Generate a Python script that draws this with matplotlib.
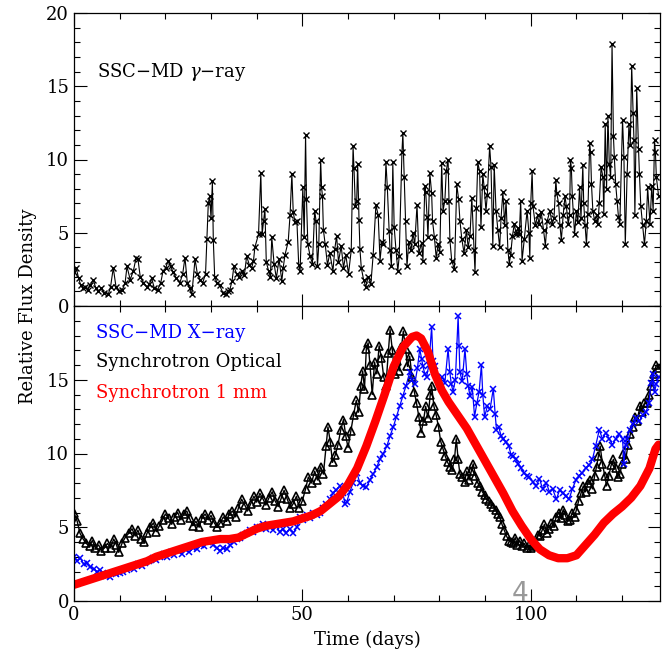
import numpy as np
import matplotlib
matplotlib.use("Agg")
import matplotlib.pyplot as plt
from matplotlib.ticker import MultipleLocator

plt.rcParams['font.family'] = 'DejaVu Serif'
plt.rcParams['mathtext.fontset'] = 'dejavuserif'

# SSC-MD gamma-ray (top panel): (day, flux)
gamma = [(0,2.3),(0.5,2.6),(1,1.9),(1.5,1.4),(2,1.2),(2.5,1.3),(3,1.1),(3.5,1.4),(4.2,1.8),(4.8,1.2),
         (5.3,1.0),(6,1.2),(6.6,0.9),(7.5,0.8),(8,1.3),(8.6,2.6),(9.2,1.3),(9.8,1.0),(10.6,1.1),(11.2,1.6),
         (11.6,2.7),(12.3,1.8),(13,2.4),(13.6,3.3),(14,3.2),(14.5,2.0),(15.2,1.6),(16,1.3),(16.5,1.5),(17,1.9),
         (17.6,1.2),(18.3,1.1),(19,1.6),(19.5,2.4),(20.1,2.6),(20.6,3.1),(21.2,2.7),(21.7,2.3),(22.4,1.9),(23.2,1.6),
         (23.8,2.2),(24.3,3.3),(24.8,1.6),(25.3,1.2),(25.8,0.8),(26.5,3.2),(27,2.2),(27.6,1.8),(28.2,1.6),(28.8,2.2),
         (29.1,4.6),(29.4,7.0),(29.7,7.5),(30,6.0),(30.3,8.5),(30.5,4.5),(30.8,2.0),(31.3,1.6),(31.9,1.4),(32.6,0.9),
         (33.2,0.8),(33.7,1.0),(34.1,1.1),(34.6,1.7),(35,2.7),(35.6,2.2),(36.2,2.0),(36.8,2.4),(37.3,2.1),(37.8,3.4),
         (38.4,2.8),(38.9,2.6),(39.3,3.1),(39.6,4.0),(40.4,4.9),(40.9,9.1),(41.2,4.9),(41.5,5.8),(41.8,6.6),(42.1,3.0),
         (42.6,2.4),(43,2.0),(43.3,4.7),(43.8,2.9),(44.3,1.9),(44.9,3.2),(45.5,1.7),(45.8,2.6),(46.2,3.5),(46.9,4.4),
         (47.3,6.2),(47.7,9.0),(48,6.4),(48.4,5.7),(48.8,5.8),(49.2,2.8),(49.5,2.4),(50.1,8.1),(50.4,4.7),(50.7,11.7),
         (50.9,7.3),(51.2,4.2),(51.7,3.4),(52.2,2.9),(52.7,6.5),(53,5.8),(53.3,2.7),(53.6,4.2),(54,10.0),(54.2,8.1),
         (54.4,7.5),(54.6,5.2),(55,4.2),(55.5,2.8),(56,3.6),(56.7,2.4),(57.1,3.9),(57.5,4.8),(57.9,3.0),(58.5,4.1),
         (59,2.6),(59.5,3.5),(60.1,2.2),(60.7,3.8),(61.1,10.9),(61.3,9.4),(61.6,6.8),(61.9,7.2),(62.1,9.7),(62.4,5.9),
         (62.6,3.9),(62.9,2.6),(63.4,1.8),(63.9,1.3),(64.4,2.0),(65,1.5),(65.5,3.5),(66.1,6.9),(66.6,6.2),(67,3.1),
         (67.4,4.4),(67.7,4.2),(68.3,9.8),(68.6,8.1),(69,5.1),(69.2,3.8),(69.5,2.7),(69.8,9.8),(70.1,5.4),(70.5,3.8),
         (70.9,2.4),(71.2,3.4),(71.8,10.5),(72,11.8),(72.3,8.8),(72.6,5.8),(72.9,2.7),(73.3,4.4),(73.8,3.8),(74.2,5.0),
         (74.6,4.2),(75.1,6.9),(75.5,3.6),(76.1,4.3),(76.4,3.1),(76.8,8.2),(77,7.8),(77.3,6.1),(77.5,4.7),(77.9,9.1),
         (78.3,7.7),(78.5,5.8),(78.9,4.7),(79.3,3.3),(79.7,4.2),(80.1,3.7),(80.5,9.75),(80.8,6.5),(81.2,7.2),(81.5,9.2),
         (81.9,10.0),(82.1,7.2),(82.3,4.5),(82.7,3.1),(83.3,2.5),(83.8,8.3),(84.2,7.3),(84.5,5.8),(84.9,4.6),(85.4,3.6),
         (85.9,5.2),(86.3,4.0),(86.7,4.8),(87.1,7.4),(87.6,3.8),(87.8,2.3),(88.1,6.7),(88.4,9.8),(88.8,9.2),(89.1,5.4),
         (89.5,9.0),(89.8,8.1),(90.2,6.5),(90.5,7.6),(91,10.9),(91.3,9.5),(91.7,4.1),(92,9.6),(92.4,6.5),(92.8,5.2),
         (93.2,4.0),(93.5,6.0),(93.9,7.8),(94.3,5.5),(94.6,7.2),(95,3.8),(95.3,2.9),(95.6,3.5),(96,4.8),(96.4,5.6),
         (96.8,4.9),(97.2,5.3),(97.5,4.9),(97.8,7.2),(98.1,3.1),(98.6,4.6),(99.2,6.5),(99.6,5.0),(99.8,3.3),(100,7.0),
         (100.3,9.2),(100.5,6.8),(101,5.5),(101.5,6.2),(101.8,5.6),(102.3,6.4),(102.8,5.2),(103.2,4.1),(103.6,5.8),(104.2,6.5),
         (104.7,5.6),(105.1,6.0),(105.5,8.6),(105.7,7.7),(106.1,7.0),(106.4,5.5),(106.7,4.5),(107.1,6.2),(107.5,7.5),(107.8,6.8),
         (108.2,5.6),(108.5,6.2),(108.7,10.0),(108.9,9.4),(109.1,7.5),(109.6,4.9),(110,6.5),(110.3,5.7),(110.7,8.1),(111,6.0),
         (111.4,9.6),(111.6,7.0),(111.9,5.5),(112.2,4.2),(112.5,6.3),(112.9,11.1),(113.1,10.5),(113.3,8.3),(113.6,6.5),(114,5.8),
         (114.4,6.2),(114.7,5.6),(115,7.0),(115.4,9.5),(115.8,8.8),(116,6.3),(116.3,12.4),(116.6,8.0),(116.9,13.0),(117.2,9.7),
         (117.5,8.8),(117.8,17.9),(118.1,11.6),(118.3,10.2),(118.6,8.3),(118.9,7.2),(119.2,6.1),(119.5,5.6),(120.1,12.7),(120.4,10.2),
         (120.7,4.2),(121.1,9.0),(121.5,12.4),(121.8,11.0),(122.1,16.4),(122.4,13.2),(122.6,11.3),(122.8,6.2),(123.2,14.9),(123.6,10.7),
         (123.8,9.0),(124.1,6.8),(124.5,5.5),(124.9,4.2),(125.3,5.8),(125.6,8.1),(126.1,5.6),(126.5,8.2),(126.8,6.5),(127.1,11.3),
         (127.3,10.5),(127.5,8.8),(128,7.5)]

# SSC-MD X-ray (bottom, blue)
xray = [(0,3.0),(0.7,2.7),(1.4,2.9),(2.1,2.5),(2.9,2.6),(3.6,2.3),(4.3,2.2),(5,2.0),(5.7,2.1),(6.4,1.9),
        (7.1,1.7),(7.9,1.6),(8.6,1.9),(9.3,1.8),(10,1.9),(10.8,2.0),(11.6,2.1),(12.4,2.3),(13.2,2.2),(14,2.5),
        (14.8,2.4),(15.6,2.6),(16.4,2.7),(17.2,2.9),(18,2.8),(18.8,3.0),(19.6,3.2),(20.4,3.0),(21.2,3.3),(22,3.1),
        (22.8,3.4),(23.6,3.2),(24.4,3.5),(25.2,3.3),(26.1,3.6),(26.9,3.5),(27.7,3.8),(28.5,3.7),(29.3,4.0),(29.8,4.1),
        (30.5,3.8),(31.2,3.6),(32,3.4),(32.7,3.6),(33.4,3.5),(34.2,3.8),(35,4.0),(35.7,4.2),(36.4,4.3),(37.1,4.5),
        (37.8,4.6),(38.5,4.8),(39.2,4.7),(40,5.0),(40.7,5.0),(41.4,5.2),(42.1,4.9),(42.9,5.0),(43.6,4.8),(44.3,5.1),
        (45,4.7),(45.7,4.9),(46.4,4.6),(47.2,4.9),(48,4.6),(48.8,5.0),(49.5,5.7),(50.2,5.5),(51,5.8),(51.7,5.6),
        (52.4,6.0),(53.1,5.8),(53.8,6.0),(54.5,6.3),(55.2,6.6),(56,6.9),(56.7,7.3),(57.4,7.5),(58.2,7.8),(58.9,7.3),
        (59.3,6.6),(59.7,6.7),(60.4,7.4),(61.1,8.0),(61.9,8.7),(62.6,8.0),(63.3,7.8),(64,7.7),(64.8,8.2),(65.5,8.6),
        (66.3,9.1),(67,9.6),(67.7,10.0),(68.5,10.5),(69.2,11.2),(69.9,11.8),(70.6,12.5),(71.3,13.2),(72,13.9),(72.7,14.6),
        (73.5,15.5),(74,15.0),(74.6,14.7),(75.2,15.8),(75.7,17.1),(76.1,16.4),(76.4,15.9),(76.8,15.4),(77.2,15.2),(77.7,16.0),
        (78.3,18.6),(78.6,16.3),(79,15.9),(79.5,15.2),(80.1,14.6),(80.6,15.2),(81.2,14.8),(81.9,17.1),(82.3,15.5),(82.6,14.7),
        (83,14.2),(83.5,15.0),(84.1,19.3),(84.3,17.3),(84.5,15.5),(85,14.9),(85.6,17.1),(86,15.4),(86.3,14.6),(86.7,13.9),
        (87.2,14.5),(87.7,12.5),(88.2,13.4),(88.7,14.2),(89.2,16.0),(89.5,14.0),(89.9,12.5),(90.5,13.2),(91.1,13.0),(91.8,14.4),
        (92.2,12.7),(92.5,11.6),(93,11.8),(93.5,11.2),(94,11.0),(94.6,10.8),(95.2,10.5),(95.7,9.9),(96.1,9.8),(96.7,9.6),
        (97.3,9.3),(97.9,9.0),(98.5,8.7),(99.1,8.5),(99.7,8.4),(100.4,8.1),(101.2,7.8),(101.9,8.3),(102.6,7.6),(103.4,8.0),
        (104.1,7.4),(104.8,7.6),(105.6,6.9),(106.3,7.5),(107,7.3),(107.7,7.1),(108.4,6.9),(109.1,7.6),(109.9,8.2),(110.6,8.5),
        (111.3,8.7),(112,9.0),(112.8,9.2),(113.5,9.6),(114.2,10.5),(115,11.6),(115.7,11.0),(116.4,11.4),(117.2,11.0),(117.9,10.6),
        (118.6,11.0),(119.4,11.3),(120.1,11.0),(120.4,9.3),(120.8,10.6),(121,11.0),(121.7,11.6),(122.4,12.0),(123.1,12.4),(123.8,12.2),
        (124.5,12.6),(125.2,12.8),(125.9,13.4),(126.3,14.8),(126.7,15.4),(127.1,14.2),(127.5,14.7),(128,15.2)]

# Synchrotron optical (bottom, black)
optical = [(0,6.0),(0.7,5.4),(1.3,4.6),(2,4.2),(2.7,3.9),(3.4,3.7),(4,4.1),(4.7,3.6),(5.4,3.8),(6,3.4),
           (6.7,3.6),(7.3,3.9),(8,3.6),(8.7,4.2),(9.3,3.8),(9.8,3.3),(10.5,3.9),(11.2,4.3),(12,4.6),(12.7,4.9),
           (13.4,4.4),(14,4.8),(14.7,4.2),(15.3,4.0),(16,4.6),(16.7,5.0),(17.4,5.3),(18,4.7),(18.7,5.1),(19.4,5.5),
           (20,5.9),(20.7,5.6),(21.4,5.2),(22,5.7),(22.7,6.0),(23.4,5.5),(24,5.9),(24.7,6.1),(25.3,5.6),(26,5.1),
           (26.7,5.4),(27.4,5.0),(28,5.6),(28.7,5.9),(29.4,5.5),(30,5.8),(30.7,5.3),(31.4,5.0),(32,5.3),(32.7,5.7),
           (33.4,5.4),(34,5.9),(34.7,6.1),(35.4,5.7),(36,6.3),(36.7,6.9),(37.4,6.5),(38,6.1),(38.7,6.6),(39.4,7.1),
           (40,6.7),(40.7,7.3),(41.4,6.9),(42,6.5),(42.7,7.0),(43.4,7.4),(44,6.8),(44.7,6.4),(45.4,7.0),(46,7.5),
           (46.7,6.9),(47.4,6.3),(48,6.6),(48.7,7.1),(49.3,6.3),(50,6.8),(50.7,7.6),(51.3,8.4),(52,8.0),(52.7,8.8),
           (53.3,8.2),(54,9.1),(54.6,8.6),(55.2,10.5),(55.6,11.8),(56.1,10.8),(56.6,9.4),(57.2,9.9),(57.8,10.6),(58.4,11.6),
           (59,12.3),(59.5,11.2),(60,10.4),(60.6,11.5),(61.2,12.6),(61.8,13.6),(62.3,12.8),(62.8,14.6),(63.2,15.6),(63.6,14.4),
           (64,17.1),(64.4,17.5),(64.8,16.0),(65.3,14.0),(65.8,16.2),(66.3,15.4),(66.8,17.3),(67.3,16.5),(67.8,15.2),(68.3,14.6),
           (68.8,16.8),(69.2,18.4),(69.7,17.0),(70.2,15.4),(70.7,16.3),(71.2,15.6),(71.7,17.2),(72.1,18.3),(72.6,17.1),(73,15.9),
           (73.5,16.6),(74,15.2),(74.5,14.2),(75,13.4),(75.5,12.5),(76,11.4),(76.5,12.2),(77,13.2),(77.5,12.4),(78,14.0),
           (78.3,14.6),(78.8,13.2),(79.3,12.6),(79.8,11.8),(80.3,10.8),(80.8,10.3),(81.3,9.8),(81.8,9.4),(82.3,9.1),(82.8,8.9),
           (83.3,9.6),(83.7,11.0),(84.1,9.6),(84.5,8.6),(85,8.4),(85.5,8.1),(86,8.8),(86.5,8.2),(87,8.8),(87.4,9.3),
           (87.9,8.5),(88.4,8.0),(88.9,7.8),(89.4,7.4),(89.9,7.2),(90.3,6.9),(90.8,6.8),(91.3,6.6),(91.8,6.4),(92.3,6.2),
           (92.8,5.9),(93.2,5.7),(93.7,5.2),(94.2,4.8),(94.7,4.4),(95.2,4.1),(95.7,4.0),(96.1,3.9),(96.6,4.3),(97.1,3.8),
           (97.6,4.1),(98.1,3.7),(98.6,3.9),(99.1,3.6),(99.6,3.8),(100.1,3.6),(100.5,3.7),(101,4.0),(101.5,4.5),(102,4.4),
           (102.5,4.8),(103,5.2),(103.5,4.6),(104,4.9),(104.5,5.3),(105,5.1),(105.6,5.7),(106.1,6.0),(106.6,5.6),(107.1,6.2),
           (107.6,5.8),(108.1,5.4),(108.6,5.5),(109.1,6.0),(109.6,5.7),(110,6.2),(110.5,6.8),(111,7.3),(111.5,7.8),(112,7.4),
           (112.5,8.0),(113,8.2),(113.5,7.6),(114,8.5),(114.4,9.1),(114.8,9.8),(115.2,10.5),(115.7,9.3),(116.2,8.5),(116.6,7.8),
           (117.1,8.5),(117.6,9.2),(118.1,9.6),(118.6,9.0),(119,8.4),(119.5,8.6),(120,9.3),(120.3,10.0),(120.8,9.6),(121.3,10.6),
           (121.8,11.3),(122.3,11.8),(122.8,12.5),(123.3,12.2),(123.9,13.2),(124.4,12.8),(124.9,13.4),(125.4,13.4),(125.9,14.0),(126.4,14.6),
           (126.9,15.4),(127.5,16.0),(128,15.8)]

# Synchrotron 1 mm (bottom, red)
mm_days = [0,2,4,6,8,10,12,14,16,18,20,22,24,26,28,30,32,34,36,38,40,42,44,46,48,50,52,54,56,58,
           60,62,64,66,68,70,72,74,75,76,77.5,79,80.5,82,84,86,88,90,92,94,96,98,100,102,104,106,108,110,
           112,114,116,118,120,122,124,126,127.3,128]
mm_flux = [1.1,1.3,1.5,1.7,1.9,2.1,2.3,2.5,2.7,3.0,3.2,3.4,3.6,3.8,4.0,4.1,4.2,4.2,4.3,4.6,4.9,5.1,5.2,5.3,5.4,5.6,5.8,6.1,6.6,7.1,
           7.9,9.0,10.5,12.2,14.0,15.9,17.2,17.9,18.0,17.8,16.9,15.4,14.3,13.5,12.6,11.7,10.6,9.5,8.4,7.3,6.1,5.1,4.2,3.5,3.1,2.9,2.9,3.1,
           3.8,4.5,5.3,5.9,6.4,7.0,7.8,9.0,10.3,10.6]

gx, gy = np.array(gamma).T
xx, xy = np.array(xray).T
ox, oy = np.array(optical).T

W, H = 672, 654
fig = plt.figure(figsize=(W / 100, H / 100), dpi=100)
left, right = 74 / W, 660 / W
ax1 = fig.add_axes([left, 1 - 306 / H, right - left, 293 / H])
ax2 = fig.add_axes([left, 1 - 601 / H, right - left, 295 / H], sharex=ax1)

ax1.plot(gx, gy, '-', color='k', lw=0.8, marker='x', ms=4.5, mew=1.0)
ax2.plot(ox, oy, '-', color='k', lw=1.0, marker='^', ms=5.5, mfc='none', mew=1.2)
ax2.plot(xx, xy, '-', color='#0000ff', lw=0.9, marker='x', ms=4.5, mew=1.1)
ax2.plot(mm_days, mm_flux, '-', color='#ff0000', lw=6, solid_capstyle='round')

for ax in (ax1, ax2):
    ax.set_xlim(0, 128.3)
    ax.set_ylim(0, 20)
    ax.xaxis.set_major_locator(MultipleLocator(50))
    ax.xaxis.set_minor_locator(MultipleLocator(10))
    ax.yaxis.set_major_locator(MultipleLocator(5))
    ax.yaxis.set_minor_locator(MultipleLocator(1))
    ax.tick_params(which='both', direction='in', top=True, right=True, labelsize=13, width=0.8)
    ax.tick_params(which='major', length=9)
    ax.tick_params(which='minor', length=4.5)
    for s in ax.spines.values():
        s.set_linewidth(0.9)

ax1.tick_params(labelbottom=False)
ax2.set_yticks([0, 5, 10, 15])
ax2.set_xlabel('Time (days)', fontsize=13, labelpad=5)
fig.text(0.042, 1 - 306 / H, 'Relative Flux Density', rotation=90, ha='center', va='center', fontsize=13)

ax1.text(5.0, 16.0, 'SSC−MD $\\gamma$−ray', fontsize=13, va='center')
ax2.text(4.8, 18.2, 'SSC−MD X−ray', fontsize=13, va='center', color='#0000ff')
ax2.text(4.8, 16.2, 'Synchrotron Optical', fontsize=13, va='center', color='k')
ax2.text(4.8, 14.1, 'Synchrotron 1 mm', fontsize=13, va='center', color='#ff0000')

fig.text(520 / W, 1 - 594 / H, '4', fontsize=19, color='#999999', ha='center', va='center',
         family='DejaVu Sans')

fig.savefig('out.png', dpi=100)
